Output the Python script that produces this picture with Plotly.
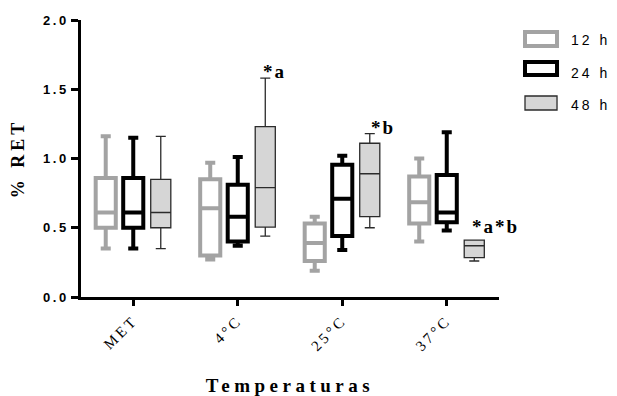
import plotly.graph_objects as go

categories = ["MET", "4°C", "25°C", "37°C"]
series_names = ["12 h", "24 h", "48 h"]

# box statistics per series, ordered as categories
mins_12 = [0.35, 0.27, 0.19, 0.40]
q1_12 = [0.50, 0.30, 0.26, 0.53]
med_12 = [0.61, 0.64, 0.39, 0.685]
q3_12 = [0.86, 0.85, 0.53, 0.87]
max_12 = [1.16, 0.97, 0.58, 1.00]

mins_24 = [0.35, 0.37, 0.34, 0.48]
q1_24 = [0.50, 0.40, 0.44, 0.54]
med_24 = [0.61, 0.58, 0.71, 0.61]
q3_24 = [0.86, 0.81, 0.955, 0.88]
max_24 = [1.15, 1.01, 1.02, 1.19]

mins_48 = [0.35, 0.44, 0.50, 0.26]
q1_48 = [0.50, 0.505, 0.58, 0.285]
med_48 = [0.61, 0.79, 0.89, 0.37]
q3_48 = [0.85, 1.23, 1.11, 0.41]
max_48 = [1.16, 1.58, 1.18, 0.41]

y_ticks = [0.0, 0.5, 1.0, 1.5, 2.0]
y_ticklabels = ["0.0", "0.5", "1.0", "1.5", "2.0"]

sig_labels = ["*a", "*b", "*a*b"]
sig_cats = ["4°C", "25°C", "37°C"]
sig_y = [1.58, 1.18, 0.46]
sig_shift = [23, 27, 23]

stats = [
    (mins_12, q1_12, med_12, q3_12, max_12),
    (mins_24, q1_24, med_24, q3_24, max_24),
    (mins_48, q1_48, med_48, q3_48, max_48),
]
line_colors = ["#a3a3a3", "black", "#2b2b2b"]
line_widths = [4, 4, 1.3]
fill_colors = ["white", "white", "#d6d6d6"]

SP = '<span style="letter-spacing:{}px">{}</span>'

fig = go.Figure()
for name, (mn, q1, md, q3, mx), lc, lw, fc in zip(series_names, stats, line_colors, line_widths, fill_colors):
    fig.add_trace(go.Box(
        name=name,
        x=categories, q1=q1, median=md, q3=q3, lowerfence=mn, upperfence=mx,
        line=dict(color=lc, width=lw), fillcolor=fc, whiskerwidth=0.5,
        boxpoints=False, hoverinfo="skip", showlegend=False,
    ))

# legend drawn as key swatches + labels (paper coordinates)
legend_y_top = [0.9567, 0.8484, 0.7256]
legend_y_bot = [0.9061, 0.8014, 0.6751]
legend_text_y = [0.9278, 0.8087, 0.6931]
for name, lc, lw, fc, yt, yb, ty in zip(series_names, line_colors, line_widths, fill_colors,
                                        legend_y_top, legend_y_bot, legend_text_y):
    fig.add_shape(type="rect", xref="paper", yref="paper",
                  x0=1.0622, x1=1.1388, y0=yb, y1=yt,
                  line=dict(color=lc, width=lw), fillcolor=fc)
    fig.add_annotation(xref="paper", yref="paper", x=1.168, y=ty,
                       text=SP.format(3, name), showarrow=False,
                       xanchor="left", yanchor="middle",
                       font=dict(family="Liberation Sans", size=14, color="black"))

for lab, cat, yv, xs in zip(sig_labels, sig_cats, sig_y, sig_shift):
    fig.add_annotation(
        x=cat, y=yv, xref="x", yref="y", text="<b>" + SP.format(2, lab) + "</b>",
        showarrow=False, xanchor="left", yanchor="bottom",
        xshift=xs, yshift=-6,
        font=dict(family="Liberation Serif", size=19, color="black"),
    )

fig.update_layout(
    width=609, height=388,
    margin=dict(l=73, r=118, t=12, b=99, autoexpand=False),
    paper_bgcolor="white", plot_bgcolor="white",
    boxmode="group", boxgap=0.21, boxgroupgap=0.27,
    showlegend=False,
    xaxis=dict(
        range=[-0.5, 3.5], showline=True, linecolor="black", linewidth=2.5,
        ticks="outside", ticklen=6, tickwidth=2.5, tickcolor="black",
        tickangle=-45, showgrid=False, zeroline=False,
        tickvals=categories, ticktext=[SP.format(3, c) for c in categories],
        tickfont=dict(family="Liberation Serif", size=15, color="black"),
        title=dict(text="<b>" + SP.format(4.5, "Temperaturas") + "</b>",
                   font=dict(family="Liberation Serif", size=19, color="black"),
                   standoff=36),
    ),
    yaxis=dict(
        range=[0, 2.0], showline=True, linecolor="black", linewidth=2.5,
        ticks="outside", ticklen=7, tickwidth=2.5, tickcolor="black",
        tickvals=y_ticks, ticktext=["<b>" + SP.format(2.5, t) + "</b>" for t in y_ticklabels],
        showgrid=False, zeroline=False,
        tickfont=dict(family="Liberation Sans", size=13, color="black"),
        title=dict(text="<b>" + SP.format(4, "% RET") + "</b>",
                   font=dict(family="Liberation Serif", size=18, color="black"),
                   standoff=22),
    ),
)

fig.write_html("out.html")
